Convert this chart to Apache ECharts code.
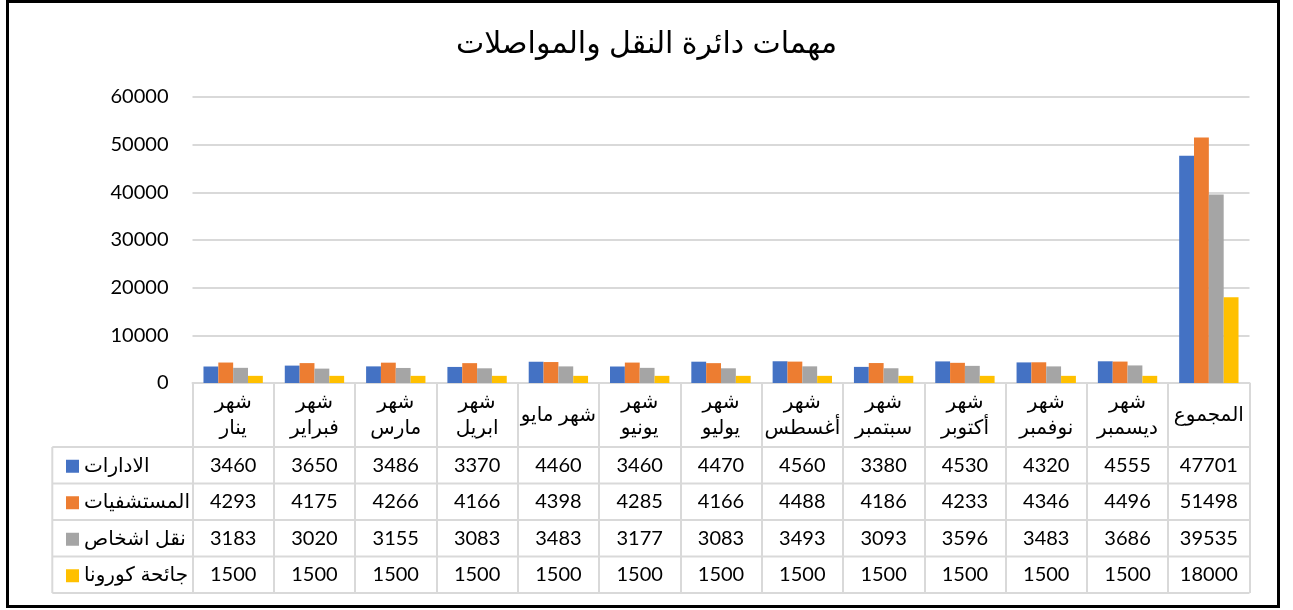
<!DOCTYPE html>
<html>
<head>
<meta charset="utf-8">
<script src="https://cdn.jsdelivr.net/npm/echarts@6/dist/echarts.min.js"></script>
<style>
  html, body { margin: 0; padding: 0; background: #fff; }
  #chart { width: 1293px; height: 610px; }
</style>
</head>
<body>
<div id="chart"></div>
<script>
const categories = ['شهر\nينار', 'شهر\nفبراير', 'شهر\nمارس', 'شهر\nابريل', 'شهر مايو', 'شهر\nيونيو',
    'شهر\nيوليو', 'شهر\nأغسطس', 'شهر\nسبتمبر', 'شهر\nأكتوبر', 'شهر\nنوفمبر', 'شهر\nديسمبر', 'المجموع'];
const seriesNames = ['الادارات', 'المستشفيات', 'نقل اشخاص', 'جائحة كورونا'];
const idarat = [3460, 3650, 3486, 3370, 4460, 3460, 4470, 4560, 3380, 4530, 4320, 4555, 47701];
const mustashfayat = [4293, 4175, 4266, 4166, 4398, 4285, 4166, 4488, 4186, 4233, 4346, 4496, 51498];
const naqlAshkhas = [3183, 3020, 3155, 3083, 3483, 3177, 3083, 3493, 3093, 3596, 3483, 3686, 39535];
const corona = [1500, 1500, 1500, 1500, 1500, 1500, 1500, 1500, 1500, 1500, 1500, 1500, 18000];
const yTicks = [0, 10000, 20000, 30000, 40000, 50000, 60000];

const values = [idarat, mustashfayat, naqlAshkhas, corona];
const colors = ['#4472C4', '#ED7D31', '#A5A5A5', '#FFC000'];
const font = "Lato, 'DejaVu Sans', sans-serif";
const arabicFont = "'Liberation Sans', 'DejaVu Sans', sans-serif";
const lineColor = '#d9d9d9';

// table geometry
const tableLeft = 52.3;
const tableRight = 1249.5;
const rowLines = [447, 483.5, 520, 556.5, 593];

function tableLabel(name, idx) {
    let head;
    if (name.indexOf('\n') >= 0) {
        head = name.split('\n').map(s => '{c|' + s + '}').join('\n');
    } else {
        head = '{c1|' + name + '}';
    }
    const rows = values.map(v => '{v|' + v[idx] + '}');
    return head + '\n{s| }\n' + rows.join('\n');
}

const chart = echarts.init(document.getElementById('chart'));

const graphics = [
    {
        type: 'rect',
        shape: { x: 7.5, y: 1.5, width: 1271, height: 605 },
        style: { fill: 'none', stroke: '#000', lineWidth: 3 },
        silent: true
    },
    {
        type: 'line',
        shape: { x1: tableLeft, y1: rowLines[0], x2: tableLeft, y2: rowLines[rowLines.length - 1] },
        style: { stroke: lineColor, lineWidth: 2 },
        silent: true
    }
];
rowLines.forEach(y => {
    graphics.push({
        type: 'line',
        shape: { x1: tableLeft, y1: y, x2: tableRight, y2: y },
        style: { stroke: lineColor, lineWidth: 2 },
        silent: true
    });
});

// one legend per table row, so each key sits in its own row
const legends = seriesNames.map((name, i) => ({
    orient: 'vertical',
    left: 61,
    top: (rowLines[i] + rowLines[i + 1]) / 2 - 14,
    itemWidth: 13,
    itemHeight: 13,
    icon: 'rect',
    data: [name],
    textStyle: { fontFamily: arabicFont, fontSize: 20, color: '#000' }
}));

const option = {
    backgroundColor: '#fff',
    animation: false,
    color: colors,
    title: {
        text: 'مهمات دائرة النقل والمواصلات',
        left: 'center',
        top: 25,
        textStyle: { fontFamily: arabicFont, fontSize: 30, fontWeight: 'normal', color: '#000' }
    },
    legend: legends,
    grid: { left: 192.5, right: 43.5, top: 97, bottom: 227 },
    xAxis: {
        type: 'category',
        data: categories,
        axisLine: { lineStyle: { color: lineColor, width: 2 } },
        axisTick: { show: true, length: 210, lineStyle: { color: lineColor, width: 2 } },
        axisLabel: {
            interval: 0,
            margin: 6,
            color: '#000',
            formatter: tableLabel,
            rich: {
                c: { fontFamily: arabicFont, fontSize: 20, lineHeight: 26, color: '#000', align: 'center' },
                c1: { fontFamily: arabicFont, fontSize: 20, lineHeight: 52, color: '#000', align: 'center' },
                s: { fontSize: 4, lineHeight: 6 },
                v: { fontFamily: font, fontSize: 20, lineHeight: 36.5, color: '#000', align: 'center' }
            }
        }
    },
    yAxis: {
        type: 'value',
        min: yTicks[0],
        max: yTicks[yTicks.length - 1],
        interval: yTicks[1] - yTicks[0],
        axisLine: { show: false },
        axisTick: { show: false },
        axisLabel: { fontFamily: font, fontSize: 20, color: '#000', margin: 24, formatter: v => String(v) },
        splitLine: { lineStyle: { color: lineColor, width: 2 } }
    },
    series: seriesNames.map((name, i) => ({
        name,
        type: 'bar',
        data: values[i],
        barGap: '0%',
        barCategoryGap: '27%'
    })),
    graphic: graphics
};

chart.setOption(option);
</script>
</body>
</html>
